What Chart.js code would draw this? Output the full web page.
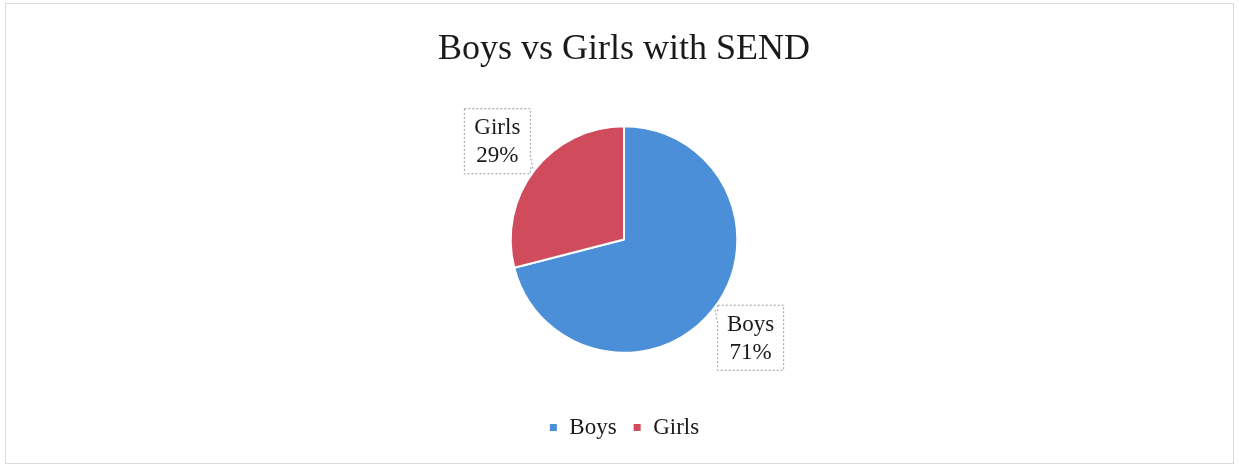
<!DOCTYPE html>
<html>
<head>
<meta charset="utf-8">
<script src="https://cdn.jsdelivr.net/npm/chart.js@4/dist/chart.umd.min.js"></script>
<style>
  html,body{margin:0;padding:0;background:#fff;}
  #wrap{width:1239px;height:468px;position:relative;}
</style>
</head>
<body>
<div id="wrap"><canvas id="pie"></canvas></div>
<script>
const categories = ['Boys', 'Girls'];
const shares = [71, 29];
const sliceColors = ['#4a8fd8', '#d04c5c'];
const chartTitle = 'Boys vs Girls with SEND';

const serif = "'Liberation Serif', 'DejaVu Serif', serif";

// thin grey frame round the whole picture
const frame = {
  id: 'frame',
  beforeDraw(chart){
    const c = chart.ctx;
    c.save();
    c.fillStyle = '#fff';
    c.fillRect(0, 0, chart.width, chart.height);
    c.strokeStyle = '#dcdcdc';
    c.lineWidth = 1;
    c.strokeRect(5.5, 3.5, chart.width - 11, chart.height - 8);
    c.restore();
  }
};

// callout boxes with the category name and percentage
const callouts = {
  id: 'callouts',
  afterDatasetsDraw(chart){
    const c = chart.ctx;
    const meta = chart.getDatasetMeta(0);
    const total = shares.reduce((a, b) => a + b, 0);
    meta.data.forEach((arc, i) => {
      const {x, y, startAngle, endAngle, outerRadius} = arc.getProps(['x','y','startAngle','endAngle','outerRadius'], true);
      const mid = (startAngle + endAngle) / 2;
      const dx = Math.cos(mid), dy = Math.sin(mid);
      const bx = x + dx * (outerRadius + 47), by = y + dy * (outerRadius + 47);
      const w = 66, h = 65;
      const l = bx - w/2, t = by - h/2, r = l + w, b = t + h;
      const tipX = x + dx * (outerRadius + 2), tipY = y + dy * (outerRadius + 2);
      c.save();
      c.setLineDash([2, 2]);
      c.strokeStyle = '#9a9a9a';
      c.lineWidth = 1;
      c.fillStyle = '#fff';
      c.beginPath();
      if (dx < 0) {
        c.moveTo(l, t); c.lineTo(r, t);
        c.lineTo(r, b - 18); c.lineTo(tipX, tipY); c.lineTo(r, b - 6);
        c.lineTo(r, b); c.lineTo(l, b); c.closePath();
      } else {
        c.moveTo(l, t); c.lineTo(r, t); c.lineTo(r, b); c.lineTo(l, b);
        c.lineTo(l, t + 18); c.lineTo(tipX, tipY); c.lineTo(l, t + 6);
        c.closePath();
      }
      c.fill(); c.stroke();
      c.setLineDash([]);
      c.fillStyle = '#1a1a1a';
      c.font = '23px ' + serif;
      c.textAlign = 'center';
      c.textBaseline = 'middle';
      c.fillText(categories[i], bx, by - 13);
      c.fillText(Math.round(shares[i] / total * 100) + '%', bx, by + 15);
      c.restore();
    });
  }
};

new Chart(document.getElementById('pie'), {
  type: 'pie',
  data: {
    labels: categories,
    datasets: [{
      data: shares,
      backgroundColor: sliceColors,
      borderColor: '#fff',
      borderWidth: 2
    }]
  },
  options: {
    responsive: true,
    maintainAspectRatio: false,
    animation: false,
    layout: {padding: {left: 9, right: 0, top: 0, bottom: 19}},
    plugins: {
      title: {
        display: true,
        text: chartTitle,
        color: '#1a1a1a',
        font: {family: serif, size: 36, weight: 'normal'},
        padding: {top: 28, bottom: 54}
      },
      legend: {
        position: 'bottom',
        title: {display: true, text: ' ', font: {size: 1}, padding: {top: 45, bottom: 0}},
        labels: {
          color: '#1a1a1a',
          font: {family: serif, size: 23},
          boxWidth: 9,
          boxHeight: 9,
          padding: 16
        }
      },
      tooltip: {enabled: false}
    }
  },
  plugins: [frame, callouts]
});
</script>
</body>
</html>
